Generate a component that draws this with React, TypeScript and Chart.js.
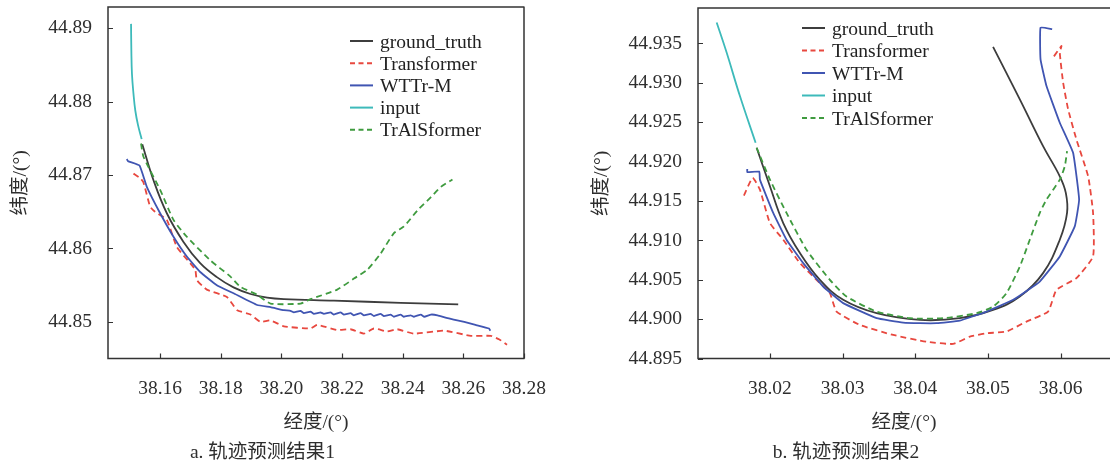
import React, { useEffect, useRef } from "react";
import { Chart, registerables } from "chart.js";
Chart.register(...registerables);

// ---------- shared ----------
const SERIES_NAMES = ["ground_truth", "Transformer", "WTTr-M", "input", "TrAlSformer"];
const SERIES_COLORS = ["#3d3d3d", "#e8483f", "#4055b2", "#3dbaba", "#3f9b3f"];
const SERIES_DASHED = [false, true, false, false, true];
const SERIES_TENSION = [0.4, 0.15, 0.1, 0.4, 0.2];

// ---------- chart a ----------
const A_X_TICKS = [38.16, 38.18, 38.2, 38.22, 38.24, 38.26, 38.28];
const A_Y_TICKS = [44.85, 44.86, 44.87, 44.88, 44.89];

const A_GT_LON = [38.1541, 38.1578, 38.1622, 38.1677, 38.1732, 38.1787, 38.1842, 38.1898, 38.1953, 38.2008, 38.2173, 38.2393, 38.2583];
const A_GT_LAT = [44.8742, 44.8693, 44.8648, 44.8609, 44.858, 44.8561, 44.8547, 44.8538, 44.8533, 44.8531, 44.8529, 44.8526, 44.8524];

const A_TRANS_LON = [38.1512, 38.1534, 38.1545, 38.1567, 38.1583, 38.1622, 38.1655, 38.1699, 38.1716, 38.1721, 38.1754, 38.182, 38.1854, 38.1898, 38.1931, 38.1964, 38.2008, 38.2096, 38.2118, 38.2184, 38.2228, 38.2272, 38.2305, 38.2349, 38.2382, 38.2437, 38.2537, 38.2625, 38.2691, 38.2719, 38.2744];
const A_TRANS_LAT = [44.8702, 44.8696, 44.869, 44.8657, 44.865, 44.8639, 44.8602, 44.858, 44.8571, 44.8557, 44.8544, 44.8534, 44.8516, 44.851, 44.85, 44.8502, 44.8494, 44.8491, 44.8496, 44.8489, 44.849, 44.8484, 44.8491, 44.8487, 44.849, 44.8484, 44.8488, 44.8481, 44.8481, 44.8476, 44.8469];

const A_WTTR_LON = [38.149, 38.1494, 38.1532, 38.1556, 38.16, 38.1644, 38.1688, 38.1732, 38.1787, 38.1842, 38.192, 38.1964, 38.2008, 38.203, 38.2041, 38.2063, 38.2074, 38.2096, 38.2107, 38.2129, 38.214, 38.2162, 38.2173, 38.2195, 38.2206, 38.2228, 38.2239, 38.2261, 38.2272, 38.2294, 38.2305, 38.2327, 38.2338, 38.236, 38.2371, 38.2393, 38.2404, 38.2426, 38.2437, 38.246, 38.2471, 38.2493, 38.2515, 38.2548, 38.258, 38.2603, 38.264, 38.2685, 38.2689];
const A_WTTR_LAT = [44.8722, 44.8719, 44.8713, 44.8684, 44.8648, 44.8616, 44.8589, 44.8568, 44.855, 44.8539, 44.8523, 44.852, 44.8516, 44.8515, 44.8513, 44.8515, 44.8512, 44.8514, 44.8511, 44.8513, 44.8511, 44.8513, 44.851, 44.8513, 44.851, 44.8512, 44.8509, 44.8512, 44.8509, 44.8511, 44.8508, 44.8511, 44.8508, 44.851, 44.8507, 44.851, 44.8507, 44.8509, 44.8507, 44.851, 44.8507, 44.851, 44.8509, 44.8505, 44.8502, 44.85, 44.8496, 44.8491, 44.8488];

const A_INPUT_LON = [38.1504, 38.1505, 38.1507, 38.1512, 38.1518, 38.1527, 38.1539];
const A_INPUT_LAT = [44.8906, 44.887, 44.8838, 44.8811, 44.8788, 44.8768, 44.8749];

const A_TRAL_LON = [38.1537, 38.1545, 38.16, 38.1644, 38.1688, 38.1765, 38.1831, 38.1864, 38.192, 38.1964, 38.2063, 38.2096, 38.2184, 38.2239, 38.2283, 38.2327, 38.2371, 38.2404, 38.2449, 38.2493, 38.2526, 38.2564];
const A_TRAL_LAT = [44.8743, 44.8725, 44.868, 44.8639, 44.8616, 44.8584, 44.8562, 44.8548, 44.8537, 44.8525, 44.8525, 44.8531, 44.8544, 44.8559, 44.8571, 44.8593, 44.8621, 44.863, 44.8652, 44.867, 44.8684, 44.8694];

// ---------- chart b ----------
const B_X_TICKS = [38.02, 38.03, 38.04, 38.05, 38.06];
const B_Y_TICKS = [44.895, 44.9, 44.905, 44.91, 44.915, 44.92, 44.925, 44.93, 44.935];

const B_GT_LON = [38.01817, 38.02, 38.02183, 38.02413, 38.02688, 38.03008, 38.03468, 38.04063, 38.04613, 38.05071, 38.05439, 38.05759, 38.05989, 38.06089, 38.06072, 38.05989, 38.05759, 38.05439, 38.05071];
const B_GT_LAT = [44.92176, 44.91687, 44.91221, 44.9084, 44.905, 44.90246, 44.90076, 44.89991, 44.90013, 44.90118, 44.90288, 44.90585, 44.91009, 44.91349, 44.91603, 44.91814, 44.92196, 44.9279, 44.93456];

const B_TRANS_LON = [38.01642, 38.01762, 38.01862, 38.02, 38.02183, 38.02413, 38.02688, 38.02825, 38.02917, 38.03238, 38.03696, 38.04155, 38.04521, 38.04751, 38.0498, 38.05255, 38.0553, 38.05828, 38.05943, 38.06218, 38.06447, 38.06447, 38.06379, 38.06218, 38.06104, 38.06035, 38.05989, 38.06012, 38.05897];
const B_TRANS_LAT = [44.91569, 44.91794, 44.91645, 44.91221, 44.91009, 44.90712, 44.90458, 44.90331, 44.90097, 44.89927, 44.898, 44.89715, 44.89686, 44.89779, 44.89822, 44.89843, 44.8997, 44.90097, 44.90373, 44.90522, 44.90797, 44.91349, 44.91814, 44.92281, 44.92663, 44.93003, 44.93384, 44.93468, 44.93321];

const B_WTTR_LON = [38.01688, 38.01688, 38.01853, 38.01862, 38.02045, 38.02228, 38.02458, 38.02733, 38.03008, 38.03468, 38.03834, 38.04063, 38.04293, 38.04613, 38.0498, 38.05347, 38.05713, 38.05989, 38.06195, 38.06255, 38.06172, 38.05989, 38.05806, 38.05724, 38.05724, 38.05884];
const B_WTTR_LAT = [44.91908, 44.91866, 44.91874, 44.91772, 44.91349, 44.91009, 44.90712, 44.90415, 44.90204, 44.90013, 44.89957, 44.89949, 44.89949, 44.89982, 44.90097, 44.90246, 44.90478, 44.90797, 44.91178, 44.91518, 44.92112, 44.92494, 44.9296, 44.93299, 44.93702, 44.93681];

const B_INPUT_LON = [38.01267, 38.01404, 38.01587, 38.01803];
const B_INPUT_LAT = [44.93766, 44.93384, 44.92832, 44.92239];

const B_TRAL_LON = [38.01817, 38.02, 38.02228, 38.02503, 38.02825, 38.03054, 38.03468, 38.03926, 38.04384, 38.04843, 38.05071, 38.05255, 38.05439, 38.05576, 38.05714, 38.05806, 38.05989, 38.06058, 38.06089];
const B_TRAL_LAT = [44.92176, 44.91772, 44.91349, 44.90882, 44.905, 44.90288, 44.90097, 44.90013, 44.90013, 44.90076, 44.9016, 44.90331, 44.90669, 44.91009, 44.91349, 44.91518, 44.91772, 44.91942, 44.92132];

const FONT_FAMILY = "'Liberation Serif', 'Noto Sans CJK SC', serif";
const TEXT_COLOR = "#2e2e2e";
const AXIS_COLOR = "#333333";

const pts = (lon: number[], lat: number[]) => lon.map((x, i) => ({ x, y: lat[i] }));

const framePlugin = {
  id: "frame",
  afterDraw(chart: any, _args: any, opts: any) {
    const { ctx, chartArea } = chart;
    const { left, top, right, bottom } = chartArea;
    ctx.save();
    ctx.strokeStyle = AXIS_COLOR;
    ctx.lineWidth = 1.5;
    ctx.beginPath();
    ctx.moveTo(right + 0.5, top);
    ctx.lineTo(left, top);
    ctx.lineTo(left, bottom);
    ctx.lineTo(right + 0.5, bottom);
    if (opts && opts.right) {
      ctx.moveTo(right, top);
      ctx.lineTo(right, bottom);
    }
    ctx.stroke();
    ctx.lineWidth = 1.2;
    ctx.beginPath();
    const xs = chart.scales.x;
    const ys = chart.scales.y;
    xs.ticks.forEach((t: any) => {
      const px = Math.round(xs.getPixelForValue(t.value)) + 0.5;
      ctx.moveTo(px, bottom);
      ctx.lineTo(px, bottom - 5);
    });
    ys.ticks.forEach((t: any) => {
      const py = Math.round(ys.getPixelForValue(t.value)) + 0.5;
      ctx.moveTo(left, py);
      ctx.lineTo(left + 5, py);
    });
    ctx.stroke();
    ctx.restore();
  },
};

type Cfg = {
  series: { lon: number[]; lat: number[] }[];
  xTicks: number[];
  yTicks: number[];
  xDec: number;
  yDec: number;
  xMin: number;
  xMax: number;
  yMin: number;
  yMax: number;
  caption: string;
  padLeft: number;
  padRight: number;
  padTop: number;
  yAxisWidth: number;
  xAxisHeight: number;
  rightBorder: boolean;
};

function TrajChart({ cfg, width, height }: { cfg: Cfg; width: number; height: number }) {
  const ref = useRef<HTMLCanvasElement | null>(null);
  useEffect(() => {
    if (!ref.current) return;
    const datasets = cfg.series.map((s, i) => ({
      label: SERIES_NAMES[i],
      data: pts(s.lon, s.lat),
      showLine: true,
      borderColor: SERIES_COLORS[i],
      backgroundColor: SERIES_COLORS[i],
      borderWidth: 1.8,
      borderDash: SERIES_DASHED[i] ? [6, 4] : [],
      pointRadius: 0,
      pointHoverRadius: 0,
      tension: SERIES_TENSION[i],
      fill: false,
      order: 5 - i,
    }));
    const font = { family: FONT_FAMILY, size: 19.5 };
    const chart = new Chart(ref.current, {
      type: "scatter",
      data: { datasets },
      plugins: [framePlugin],
      options: {
        responsive: false,
        animation: false,
        devicePixelRatio: 1,
        layout: { padding: { left: cfg.padLeft, right: cfg.padRight, top: cfg.padTop, bottom: 1 } },
        plugins: {
          legend: { display: false },
          tooltip: { enabled: false },
          title: {
            display: true,
            text: cfg.caption,
            position: "bottom",
            color: TEXT_COLOR,
            font: { ...font, weight: "normal" },
            padding: { top: 4, bottom: 0 },
          },
          frame: { right: cfg.rightBorder },
        } as any,
        scales: {
          x: {
            type: "linear",
            min: cfg.xMin,
            max: cfg.xMax,
            grid: { display: false, drawTicks: false },
            border: { display: false },
            afterBuildTicks: (scale: any) => {
              scale.ticks = cfg.xTicks.map((v) => ({ value: v }));
            },
            afterFit: (scale: any) => {
              scale.height = cfg.xAxisHeight;
              scale.paddingLeft = 0;
              scale.paddingRight = 0;
            },
            ticks: {
              padding: 19,
              color: TEXT_COLOR,
              font,
              maxRotation: 0,
              autoSkip: false,
              callback: (v: any) => Number(v).toFixed(cfg.xDec),
            },
            title: {
              display: true,
              text: "经度/(°)",
              color: TEXT_COLOR,
              font,
              padding: { top: 12, bottom: 3 },
            },
          },
          y: {
            type: "linear",
            min: cfg.yMin,
            max: cfg.yMax,
            grid: { display: false, drawTicks: false },
            border: { display: false },
            afterBuildTicks: (scale: any) => {
              scale.ticks = cfg.yTicks.map((v) => ({ value: v }));
            },
            afterFit: (scale: any) => {
              scale.width = cfg.yAxisWidth;
              scale.paddingTop = 0;
              scale.paddingBottom = 0;
            },
            ticks: {
              padding: 16,
              color: TEXT_COLOR,
              font,
              autoSkip: false,
              callback: (v: any) => Number(v).toFixed(cfg.yDec),
            },
            title: {
              display: true,
              text: "纬度/(°)",
              color: TEXT_COLOR,
              font,
              padding: { top: 8, bottom: 16 },
            },
          },
        },
      } as any,
    });
    return () => chart.destroy();
  }, [cfg]);
  return <canvas ref={ref} width={width} height={height} style={{ display: "block", width, height }} />;
}

function Legend({ left, top, rowGap }: { left: number; top: number; rowGap: number }) {
  return (
    <svg
      style={{ position: "absolute", left, top: top - 12, overflow: "visible" }}
      width={180}
      height={rowGap * 5}
    >
      {SERIES_NAMES.map((name, i) => {
        const y = 12 + i * rowGap;
        return (
          <g key={name}>
            <line
              x1={0}
              x2={23}
              y1={y}
              y2={y}
              stroke={SERIES_COLORS[i]}
              strokeWidth={2}
              strokeDasharray={SERIES_DASHED[i] ? "5 3.5" : undefined}
            />
            <text
              x={30}
              y={y}
              dominantBaseline="central"
              fill="#222"
              style={{ fontFamily: FONT_FAMILY, fontSize: "19.5px" }}
            >
              {name}
            </text>
          </g>
        );
      })}
    </svg>
  );
}

const CFG_A: Cfg = {
  series: [
    { lon: A_GT_LON, lat: A_GT_LAT },
    { lon: A_TRANS_LON, lat: A_TRANS_LAT },
    { lon: A_WTTR_LON, lat: A_WTTR_LAT },
    { lon: A_INPUT_LON, lat: A_INPUT_LAT },
    { lon: A_TRAL_LON, lat: A_TRAL_LAT },
  ],
  xTicks: A_X_TICKS,
  yTicks: A_Y_TICKS,
  xDec: 2,
  yDec: 2,
  xMin: 38.1428,
  xMax: 38.28,
  yMin: 44.845,
  yMax: 44.8929,
  caption: "a. 轨迹预测结果1",
  padLeft: 1,
  padRight: 31,
  padTop: 7,
  yAxisWidth: 107,
  xAxisHeight: 79,
  rightBorder: true,
};

const CFG_B: Cfg = {
  series: [
    { lon: B_GT_LON, lat: B_GT_LAT },
    { lon: B_TRANS_LON, lat: B_TRANS_LAT },
    { lon: B_WTTR_LON, lat: B_WTTR_LAT },
    { lon: B_INPUT_LON, lat: B_INPUT_LAT },
    { lon: B_TRAL_LON, lat: B_TRAL_LAT },
  ],
  xTicks: B_X_TICKS,
  yTicks: B_Y_TICKS,
  xDec: 2,
  yDec: 3,
  xMin: 38.0101,
  xMax: 38.0668,
  yMin: 44.895,
  yMax: 44.9395,
  caption: "b. 轨迹预测结果2",
  padLeft: 27,
  padRight: 0,
  padTop: 8,
  yAxisWidth: 116,
  xAxisHeight: 79,
  rightBorder: false,
};

export default function App() {
  return (
    <div
      style={{
        position: "absolute",
        left: 0,
        top: 0,
        width: 1110,
        height: 466,
        overflow: "hidden",
        background: "#ffffff",
      }}
    >
      <div style={{ position: "absolute", left: 0, top: 0 }}>
        <TrajChart cfg={CFG_A} width={555} height={466} />
      </div>
      <div style={{ position: "absolute", left: 555, top: 0 }}>
        <TrajChart cfg={CFG_B} width={555} height={466} />
      </div>
      <Legend left={350} top={40.7} rowGap={22.2} />
      <Legend left={801.7} top={28.3} rowGap={22.5} />
    </div>
  );
}
